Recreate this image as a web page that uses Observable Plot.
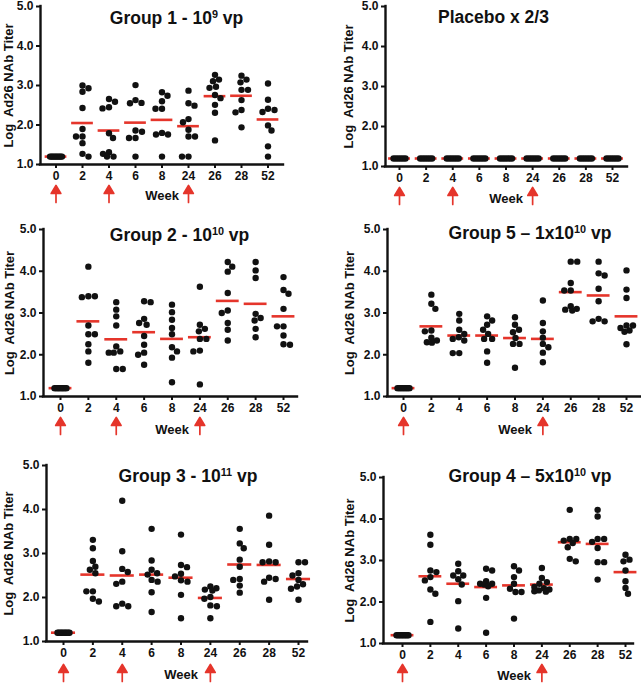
<!DOCTYPE html>
<html>
<head>
<meta charset="utf-8">
<script src="https://cdn.jsdelivr.net/npm/d3@7"></script>
<script src="https://cdn.jsdelivr.net/npm/@observablehq/plot@0.6"></script>
<style>
  html, body { margin: 0; padding: 0; background: #fff; }
  #wrap { position: relative; width: 641px; height: 683px; overflow: hidden; font-family: "Liberation Sans", Arial, Helvetica, sans-serif; }
  #wrap svg { position: absolute; }
  .title { position: absolute; font-weight: bold; font-size: 17.5px; line-height: 17.5px; white-space: nowrap; transform: translateX(-50%); color: #111; }
  .title sup { font-size: 0.62em; vertical-align: 0.55em; line-height: 0; }
</style>
</head>
<body>
<div id="wrap"></div>
<script>
// ---------- data ----------
const weeks = ["0", "2", "4", "6", "8", "24", "26", "28", "52"];
const yTicks = [1, 2, 3, 4, 5];
const yLabel = "Log\u00a0 Ad26 NAb Titer";
const xLabel = "Week";

const base10 = [1.2, 1.2, 1.2, 1.2, 1.2, 1.2, 1.2, 1.2, 1.2, 1.2];
const base9 = [1.2, 1.2, 1.2, 1.2, 1.2, 1.2, 1.2, 1.2, 1.2];
const placeboCell = [1.2, 1.2, 1.2, 1.2, 1.2, 1.2];

const group1 = [
  base10,
  [3.00, 2.93, 2.84, 2.43, 1.90, 1.71, 1.71, 1.54, 1.27, 1.20],
  [2.66, 2.59, 2.45, 2.42, 1.79, 1.67, 1.31, 1.27, 1.20, 1.20],
  [3.01, 2.63, 2.56, 2.55, 1.86, 1.83, 1.67, 1.67, 1.20],
  [2.83, 2.74, 2.60, 2.41, 2.41, 1.80, 1.76, 1.76, 1.20],
  [2.87, 2.55, 2.49, 2.15, 2.07, 1.88, 1.71, 1.71, 1.20, 1.20],
  [3.27, 3.15, 3.11, 2.97, 2.94, 2.76, 2.68, 2.51, 2.31, 1.61],
  [3.25, 3.15, 3.08, 2.89, 2.89, 2.63, 2.38, 2.32, 1.94],
  [3.05, 2.64, 2.41, 2.38, 2.33, 1.99, 1.86, 1.46, 1.20]
];
const group1Means = [1.2, 2.05, 1.86, 2.06, 2.13, 1.97, 2.73, 2.74, 2.14];

const placebo = [placeboCell, placeboCell, placeboCell, placeboCell, placeboCell, placeboCell, placeboCell, placeboCell, placeboCell];
const placeboMeans = [1.2, 1.2, 1.2, 1.2, 1.2, 1.2, 1.2, 1.2, 1.2];

const group2 = [
  base10,
  [4.11, 3.40, 3.40, 3.38, 2.70, 2.49, 2.49, 2.25, 2.08, 1.81],
  [3.26, 3.08, 2.92, 2.70, 2.20, 2.08, 2.05, 2.05, 1.66, 1.66],
  [3.28, 3.26, 2.86, 2.76, 2.72, 2.45, 2.24, 2.05, 2.00, 1.76],
  [3.20, 3.02, 2.84, 2.64, 2.49, 2.18, 2.08, 1.93, 1.34],
  [3.63, 2.72, 2.62, 2.56, 2.38, 2.38, 2.10, 2.08, 1.29],
  [4.22, 4.11, 3.99, 3.48, 3.06, 3.00, 2.76, 2.60, 2.34],
  [4.22, 4.02, 3.84, 2.98, 2.88, 2.82, 2.62, 2.42],
  [3.86, 3.55, 3.46, 3.10, 2.68, 2.68, 2.46, 2.25, 2.24]
];
const group2Means = [1.2, 2.80, 2.37, 2.54, 2.38, 2.42, 3.29, 3.22, 2.92];

const group5 = [
  base9,
  [3.44, 3.22, 3.10, 2.58, 2.56, 2.41, 2.34, 2.30, 2.29],
  [2.98, 2.82, 2.60, 2.50, 2.42, 2.38, 2.34, 2.04, 2.04],
  [2.92, 2.82, 2.72, 2.60, 2.50, 2.38, 2.38, 2.08, 1.81],
  [2.90, 2.72, 2.60, 2.54, 2.40, 2.26, 2.26, 1.69],
  [3.30, 2.76, 2.56, 2.41, 2.26, 2.18, 2.05, 1.82],
  [4.23, 4.23, 3.72, 3.54, 3.54, 3.16, 3.10, 3.08, 3.06],
  [4.23, 3.95, 3.90, 3.58, 3.28, 2.86, 2.80, 2.80],
  [4.02, 3.56, 3.36, 2.70, 2.70, 2.64, 2.58, 2.55, 2.25]
];
const group5Means = [1.2, 2.68, 2.46, 2.46, 2.40, 2.38, 3.50, 3.42, 2.92];

const group3 = [
  base10,
  [3.31, 3.12, 2.83, 2.70, 2.63, 2.55, 2.14, 2.14, 1.97, 1.91],
  [4.20, 3.05, 2.65, 2.58, 2.36, 2.31, 1.86, 1.80, 1.80],
  [3.56, 2.84, 2.63, 2.55, 2.52, 2.40, 2.36, 2.12, 1.67],
  [3.43, 2.74, 2.69, 2.54, 2.48, 2.39, 2.36, 2.06, 1.53],
  [2.25, 2.21, 2.18, 2.16, 2.01, 1.97, 1.82, 1.80, 1.53],
  [3.56, 3.23, 3.12, 2.86, 2.70, 2.42, 2.40, 2.27, 2.11],
  [3.86, 3.20, 2.82, 2.80, 2.80, 2.45, 2.42, 2.36, 1.95],
  [2.80, 2.80, 2.55, 2.50, 2.40, 2.30, 2.25, 2.20, 1.95]
];
const group3Means = [1.2, 2.52, 2.50, 2.52, 2.45, 1.99, 2.75, 2.74, 2.42];

const group4 = [
  base9,
  [3.62, 3.38, 2.76, 2.72, 2.60, 2.52, 2.30, 2.20, 1.52],
  [2.92, 2.74, 2.64, 2.64, 2.55, 2.42, 2.02, 1.36],
  [2.80, 2.76, 2.50, 2.44, 2.44, 2.42, 2.38, 2.10, 1.26],
  [2.86, 2.76, 2.60, 2.44, 2.32, 2.24, 2.24, 1.60],
  [2.82, 2.58, 2.48, 2.44, 2.36, 2.33, 2.30, 2.28, 2.26, 2.25],
  [4.22, 3.52, 3.52, 3.48, 3.42, 3.32, 3.04, 2.98],
  [4.22, 4.06, 3.52, 3.52, 3.45, 3.30, 2.96, 2.96, 2.54],
  [3.14, 3.02, 2.98, 2.76, 2.50, 2.34, 2.20]
];
const group4Means = [1.2, 2.62, 2.44, 2.36, 2.40, 2.42, 3.44, 3.40, 2.72];

const arrows3 = ["0", "4", "24"];
const arrows2 = ["0", "24"];

const titles = [
  "Group 1 - 10<sup>9</sup> vp",
  "Placebo x 2/3",
  "Group 2 - 10<sup>10</sup> vp",
  "Group 5 \u2013 1x10<sup>10</sup> vp",
  "Group 3 - 10<sup>11</sup> vp",
  "Group 4 \u2013 5x10<sup>10</sup> vp"
];

// ---------- layout (page pixels) ----------
const RED = "#e5352b";
const FONT = '"Liberation Sans", Arial, Helvetica, sans-serif';
const panels = [
  {values: group1, means: group1Means, arrows: arrows3, title: titles[0], box: [0, 0, 320, 225], axisX: 40, yTop: 6, yBot: 164, x0: 55.5, x8: 267.5, xEnd: 283, tx: 176.5, tb: 25, labelX: 8, weekDy: 31, arrowDy: 38},
  {values: placebo, means: placeboMeans, arrows: arrows3, title: titles[1], box: [320, 0, 321, 225], axisX: 385, yTop: 6, yBot: 166, x0: 399, x8: 612, xEnd: 627, tx: 493.5, tb: 24, labelX: 348, weekDy: 32, arrowDy: 38},
  {values: group2, means: group2Means, arrows: arrows3, title: titles[2], box: [0, 225, 320, 230], axisX: 43, yTop: 229, yBot: 396, x0: 60, x8: 283, xEnd: 297, tx: 179.5, tb: 241.5, labelX: 9, weekDy: 33, arrowDy: 38},
  {values: group5, means: group5Means, arrows: arrows2, title: titles[3], box: [320, 225, 321, 230], axisX: 387, yTop: 229, yBot: 396, x0: 403, x8: 626, xEnd: 640, tx: 530, tb: 240, labelX: 349, weekDy: 33, arrowDy: 38},
  {values: group3, means: group3Means, arrows: arrows3, title: titles[4], box: [0, 455, 320, 228], axisX: 46, yTop: 465, yBot: 641, x0: 63, x8: 298, xEnd: 307, tx: 188, tb: 483, labelX: 8, weekDy: 33, arrowDy: 40},
  {values: group4, means: group4Means, arrows: arrows2, title: titles[5], box: [320, 455, 321, 228], axisX: 383, yTop: 477, yBot: 643, x0: 402, x8: 625, xEnd: 633, tx: 530, tb: 483, labelX: 349, weekDy: 32, arrowDy: 38}
];

// simple capped beeswarm offsets (pixels): dots barely touch, crowded dots may overlap
function swarm(vals, pxPerUnit, r) {
  const D = 2 * r - 0.2;
  const maxOff = 7.5;
  if (vals.every(v => v === vals[0])) {
    const n = vals.length;
    return vals.map((v, i) => n === 1 ? 0 : -6 + 12 * i / (n - 1));
  }
  const placed = [];
  let side = 1;
  const grid = d3.range(-maxOff, maxOff + 0.01, 0.5);
  return vals.map(v => {
    const y = v * pxPerUnit;
    const minDist = c => placed.length ? d3.min(placed, p => Math.hypot(p.x - c, p.y - y)) : Infinity;
    let ok = grid.filter(c => minDist(c) >= D);
    let x;
    if (ok.length) {
      ok.sort((a, b) => (Math.abs(a) - Math.abs(b)) || (side > 0 ? b - a : a - b));
      x = ok[0];
    } else {
      x = grid.reduce((best, c) => minDist(c) > minDist(best) ? c : best, grid[0]);
    }
    if (x !== 0) side = -Math.sign(x);
    placed.push({x, y});
    return x;
  });
}

const arrowShape = {
  draw(ctx, l, r) {
    ctx.moveTo(0, 0);
    ctx.lineTo(0, -l + 7);
    ctx.moveTo(-4.8, -l + 8);
    ctx.lineTo(0, -l);
    ctx.lineTo(4.8, -l + 8);
    ctx.closePath();
  }
};

const wrap = document.getElementById("wrap");
const R = 3.2;

for (const p of panels) {
  const [bx, by, bw, bh] = p.box;
  const spacing = (p.x8 - p.x0) / 8;
  const pxPerUnit = (p.yBot - p.yTop) / 4;
  const xmin = (p.axisX - p.x0) / spacing;
  const xmax = (p.xEnd - p.x0) / spacing;

  const pts = [];
  p.values.forEach((cell, i) => {
    const offs = swarm(cell, pxPerUnit, R);
    cell.forEach((v, k) => pts.push({i, v, off: offs[k] / spacing}));
  });
  const arrowData = p.arrows.map(w => weeks.indexOf(w));

  const chart = Plot.plot({
    width: bw,
    height: bh,
    marginLeft: p.axisX - bx,
    marginRight: bx + bw - p.xEnd,
    marginTop: p.yTop - by,
    marginBottom: by + bh - p.yBot,
    style: {fontFamily: FONT, fontSize: "12px", fontWeight: "bold", color: "#111", background: "transparent", overflow: "visible"},
    x: {domain: [xmin, xmax], label: null},
    y: {domain: [1, 5], label: null},
    marks: [
      Plot.axisY({ticks: yTicks, tickFormat: d => d.toFixed(1), tickSize: 4, tickPadding: 3, strokeWidth: 2, fontSize: 12, fontWeight: "bold", label: null}),
      Plot.axisX({ticks: d3.range(weeks.length), tickFormat: i => weeks[i], tickSize: 4, tickPadding: 3, strokeWidth: 2, fontSize: 12, fontWeight: "bold", label: null}),
      Plot.ruleX([xmin], {strokeWidth: 2.4, stroke: "#111", strokeLinecap: "square"}),
      Plot.ruleY([1], {strokeWidth: 2.4, stroke: "#111", strokeLinecap: "square"}),
      Plot.ruleY(p.means, {y: d => d, x1: (d, i) => i - 0.41, x2: (d, i) => i + 0.41, stroke: RED, strokeWidth: 2.6}),
      Plot.dot(pts, {x: d => d.i + d.off, y: "v", r: R, fill: "#111", stroke: null}),
      Plot.vector(arrowData, {x: d => d, y: () => 1, length: 17, anchor: "start", dy: p.arrowDy, shape: arrowShape, stroke: RED, fill: RED, strokeWidth: 1.7}),
      Plot.text([xLabel], {x: () => 4, y: () => 1, dy: p.weekDy, text: d => d, fontSize: 13, fontWeight: "bold"}),
      Plot.text([yLabel], {frameAnchor: "left", textAnchor: "middle", dx: p.labelX - p.axisX, rotate: -90, text: d => d, fontSize: 13, fontWeight: "bold"})
    ]
  });
  chart.style.left = bx + "px";
  chart.style.top = by + "px";
  wrap.appendChild(chart);

  const t = document.createElement("div");
  t.className = "title";
  t.innerHTML = p.title;
  t.style.left = p.tx + "px";
  t.style.top = (p.tb - 14.8) + "px";
  wrap.appendChild(t);
}
</script>
</body>
</html>
